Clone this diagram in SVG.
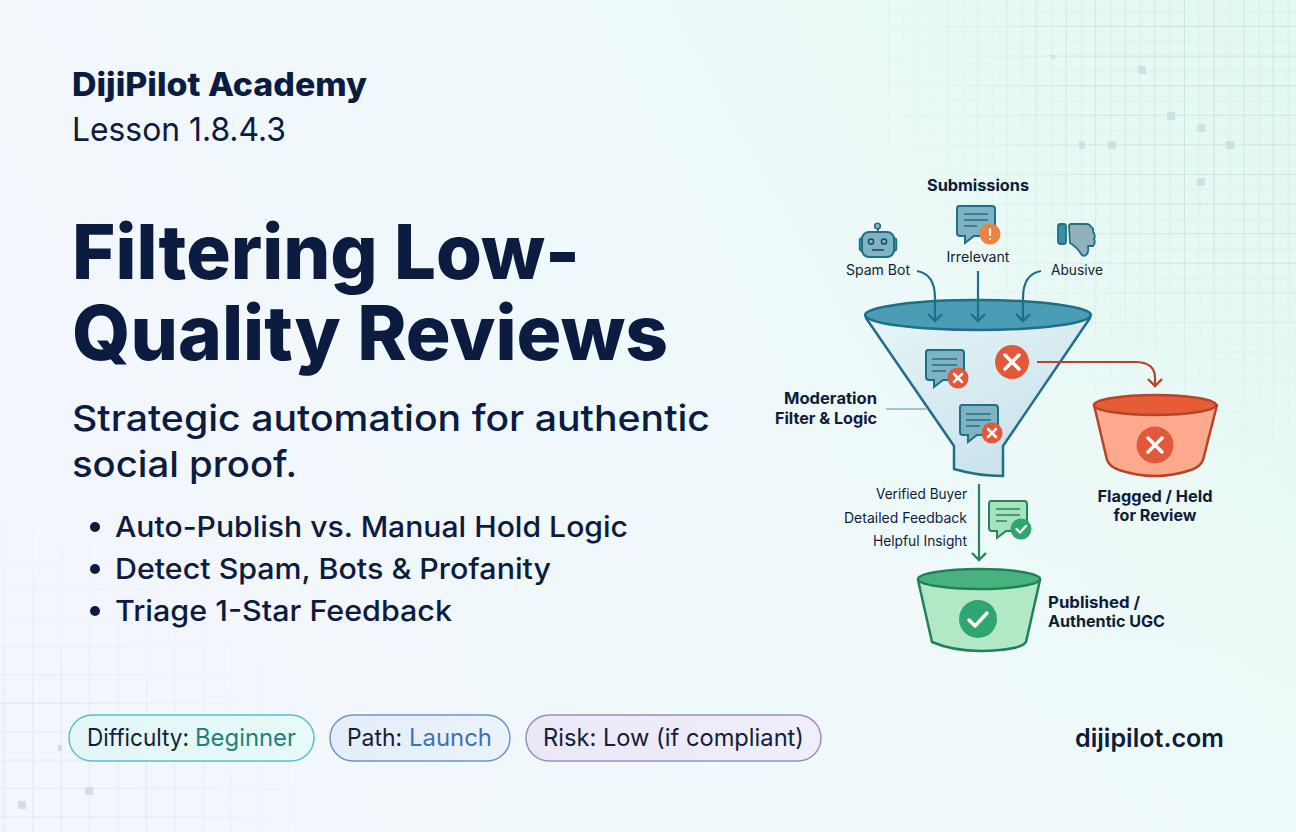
<svg xmlns="http://www.w3.org/2000/svg" width="1296" height="832" viewBox="0 0 1296 832">
<defs>
<linearGradient id="bg" x1="0" y1="0.35" x2="1" y2="0"><stop offset="0" stop-color="#f3f7fd"/><stop offset="0.55" stop-color="#eef9fa"/><stop offset="1" stop-color="#e1f9ee"/></linearGradient>
<radialGradient id="bgb" cx="0.85" cy="1" r="0.6"><stop offset="0" stop-color="#f0fafa" stop-opacity="0.8"/><stop offset="1" stop-color="#f0fafa" stop-opacity="0"/></radialGradient>
<linearGradient id="fb" x1="0" y1="0" x2="0.6" y2="1"><stop offset="0" stop-color="#e6f5f7"/><stop offset="1" stop-color="#c9e2ec"/></linearGradient>
<linearGradient id="p1" x1="0" y1="0" x2="1" y2="0"><stop offset="0" stop-color="#e2f6f8"/><stop offset="1" stop-color="#e6fbf7"/></linearGradient>
<linearGradient id="p2" x1="0" y1="0" x2="1" y2="0"><stop offset="0" stop-color="#e4eefa"/><stop offset="1" stop-color="#eaf3fb"/></linearGradient>
<linearGradient id="p3" x1="0" y1="0" x2="1" y2="0"><stop offset="0" stop-color="#ebe8f8"/><stop offset="1" stop-color="#f0eefa"/></linearGradient>
<marker id="aT" markerWidth="20" markerHeight="20" refX="8" refY="8" orient="auto" markerUnits="userSpaceOnUse"><path d="M1,1 L8,8 L1,15" fill="none" stroke="#1f6f86" stroke-width="2.400"/></marker>
<marker id="aR" markerWidth="20" markerHeight="20" refX="8" refY="8" orient="auto" markerUnits="userSpaceOnUse"><path d="M1,1 L8,8 L1,15" fill="none" stroke="#b5452a" stroke-width="2.400"/></marker>
<marker id="aG" markerWidth="20" markerHeight="20" refX="8" refY="8" orient="auto" markerUnits="userSpaceOnUse"><path d="M1,1 L8,8 L1,15" fill="none" stroke="#26855f" stroke-width="2.400"/></marker>
<g id="bubble"><path d="M2,0 H35 Q38,0 38,3 V27 Q38,30 35,30 H17 L8,37 V30 H3 Q0,30 0,27 V3 Q0,0 2,0 Z" stroke-width="2"/></g>
<pattern id="grid" width="29.600" height="29.600" patternUnits="userSpaceOnUse" patternTransform="translate(1,-2.600)"><path d="M29.600,0 V29.600 H0" fill="none" stroke="#6fa89f" stroke-width="1" opacity="0.42"/><path d="M14.800,0 V29.600 M0,14.800 H29.600" fill="none" stroke="#6fa89f" stroke-width="1" opacity="0.1"/></pattern>
<pattern id="grid2" width="28.400" height="28.400" patternUnits="userSpaceOnUse" patternTransform="translate(5,22.200)"><path d="M28.400,0 V28.400 H0" fill="none" stroke="#8fa8c4" stroke-width="1" opacity="0.34"/></pattern>
<radialGradient id="fade" gradientUnits="userSpaceOnUse" cx="1296" cy="40" r="440"><stop offset="0.45" stop-color="#fff"/><stop offset="1" stop-color="#000"/></radialGradient>
<radialGradient id="fade2" gradientUnits="userSpaceOnUse" cx="0" cy="832" r="340"><stop offset="0.4" stop-color="#fff"/><stop offset="1" stop-color="#000"/></radialGradient>
<mask id="m1" maskUnits="userSpaceOnUse" x="800" y="0" width="496" height="500"><rect x="800" y="0" width="496" height="500" fill="url(#fade)"/></mask>
<mask id="m2" maskUnits="userSpaceOnUse" x="0" y="480" width="360" height="352"><rect x="0" y="480" width="360" height="352" fill="url(#fade2)"/></mask>
</defs>
<style>
text{font-family:"Inter","Liberation Sans",sans-serif;fill:#0c1b40}
.t{fill:#0e1c3a;font-size:14px;font-weight:400}
.b{fill:#0e1c3a;font-size:16px;font-weight:700}
.bl{font-size:29px;font-weight:500}
.pl{font-size:24px;fill:#12203c}
.dec{fill:#c6dde4;opacity:.8}
.dec2{fill:#d3deea}
</style>
<g id="background">
<rect width="1296" height="832" fill="url(#bg)"/>
<rect width="1296" height="832" fill="url(#bgb)"/>
<rect x="800" y="0" width="496" height="500" fill="url(#grid)" mask="url(#m1)"/>
<rect x="0" y="480" width="360" height="352" fill="url(#grid2)" mask="url(#m2)"/>
<rect class="dec" x="1138" y="66" width="8" height="8"/><rect class="dec" x="1167" y="112" width="8" height="8"/><rect class="dec" x="1197" y="124" width="8" height="8"/><rect class="dec" x="1226" y="141" width="8" height="8"/><rect class="dec" x="1108" y="141" width="8" height="8"/><rect class="dec" x="1079" y="141" width="6" height="8"/><rect class="dec" x="1197" y="178" width="8" height="8"/><rect class="dec" x="1051" y="55" width="4" height="4"/>
<rect class="dec2" x="85" y="787" width="8" height="8"/><rect class="dec2" x="18" y="801" width="8" height="8"/><rect class="dec2" x="58" y="745" width="4" height="6"/>
</g>
<g id="header">
<text x="72" y="96" font-size="32" font-weight="800" textLength="295" lengthAdjust="spacingAndGlyphs">DijiPilot Academy</text>
<text x="72" y="141" font-size="33" font-weight="400" textLength="214" lengthAdjust="spacingAndGlyphs">Lesson 1.8.4.3</text>
</g>
<g id="title">
<text x="72" y="279" font-size="76" font-weight="800" textLength="508" lengthAdjust="spacingAndGlyphs">Filtering Low-</text>
<text x="72" y="360" font-size="76" font-weight="800" textLength="596" lengthAdjust="spacingAndGlyphs">Quality Reviews</text>
<text x="72" y="431" font-size="36" font-weight="500" textLength="638" lengthAdjust="spacingAndGlyphs">Strategic automation for authentic</text>
<text x="72" y="477" font-size="36" font-weight="500" textLength="225" lengthAdjust="spacingAndGlyphs">social proof.</text>
</g>
<g id="bullets">
<circle cx="95" cy="527" r="5" fill="#0c1b40"/><text class="bl" x="115" y="537" textLength="513" lengthAdjust="spacingAndGlyphs">Auto-Publish vs. Manual Hold Logic</text>
<circle cx="95" cy="569" r="5" fill="#0c1b40"/><text class="bl" x="115" y="579" textLength="436" lengthAdjust="spacingAndGlyphs">Detect Spam, Bots &amp; Profanity</text>
<circle cx="95" cy="611" r="5" fill="#0c1b40"/><text class="bl" x="115" y="621" textLength="337" lengthAdjust="spacingAndGlyphs">Triage 1-Star Feedback</text>
</g>
<g id="pill-difficulty"><rect x="69" y="715" width="245" height="46" rx="23" fill="url(#p1)" stroke="#5cc0c4" stroke-width="1.500"/><text class="pl" x="87" y="746"><tspan textLength="102" lengthAdjust="spacingAndGlyphs">Difficulty:</tspan> <tspan x="195" fill="#23807f" textLength="101" lengthAdjust="spacingAndGlyphs">Beginner</tspan></text></g>
<g id="pill-path"><rect x="330" y="715" width="180" height="46" rx="23" fill="url(#p2)" stroke="#6f95c8" stroke-width="1.500"/><text class="pl" x="347" y="746"><tspan textLength="55" lengthAdjust="spacingAndGlyphs">Path:</tspan> <tspan x="409" fill="#3f73ad" textLength="83" lengthAdjust="spacingAndGlyphs">Launch</tspan></text></g>
<g id="pill-risk"><rect x="526" y="715" width="295" height="46" rx="23" fill="url(#p3)" stroke="#9c8cc4" stroke-width="1.500"/><text class="pl" x="543" y="746" textLength="261" lengthAdjust="spacingAndGlyphs">Risk: Low (if compliant)</text></g>
<g id="site"><text x="1075" y="747" font-size="25" font-weight="600" textLength="149" lengthAdjust="spacingAndGlyphs">dijipilot.com</text></g>

<g id="funnel">
<path d="M866,318 L954,446 L954,469 Q978,476 1003,476 L1003,446 L1090,318 Z" fill="url(#fb)" stroke="#1f6f86" stroke-width="2.500" stroke-linejoin="round"/>
<ellipse cx="978" cy="315" rx="113" ry="15" fill="#4a9db5" stroke="#1f6f86" stroke-width="2.500"/>
<g transform="translate(926,350)"><use href="#bubble" fill="#7fb2c3" stroke="#1f6f86"/><path d="M6,9 H31 M6,15 H31 M6,21 H20" stroke="#1f6f86" stroke-width="1.600" fill="none"/><circle cx="32" cy="28" r="10.500" fill="#e2583a"/><path d="M28,24 L36,32 M36,24 L28,32" stroke="#fff" stroke-width="2.500" stroke-linecap="round"/></g>
<g transform="translate(960,405)"><use href="#bubble" fill="#7fb2c3" stroke="#1f6f86"/><path d="M6,9 H31 M6,15 H31 M6,21 H20" stroke="#1f6f86" stroke-width="1.600" fill="none"/><circle cx="32" cy="28" r="10.500" fill="#e2583a"/><path d="M28,24 L36,32 M36,24 L28,32" stroke="#fff" stroke-width="2.500" stroke-linecap="round"/></g>
<circle cx="1012" cy="362" r="17" fill="#e2583a"/><path d="M1005,355 L1019,369 M1019,355 L1005,369" stroke="#fff" stroke-width="3.500" stroke-linecap="round"/>
<text class="b" x="877" y="404" text-anchor="end" textLength="93" lengthAdjust="spacingAndGlyphs">Moderation</text>
<text class="b" x="877" y="424" text-anchor="end" textLength="102" lengthAdjust="spacingAndGlyphs">Filter &amp; Logic</text>
</g>
<g id="spam-bot">
<path d="M878,232 V225" stroke="#1f6f86" stroke-width="1.800"/><circle cx="877.500" cy="226" r="2.800" fill="#8ab9c8" stroke="#1f6f86" stroke-width="1.600"/>
<rect x="859.500" y="238" width="5" height="13" rx="2.500" fill="#3f8ea3" stroke="#1f6f86" stroke-width="1.500"/><rect x="891.500" y="238" width="5" height="13" rx="2.500" fill="#3f8ea3" stroke="#1f6f86" stroke-width="1.500"/>
<rect x="862" y="232" width="32" height="25" rx="7" fill="#7fb2c3" stroke="#1f6f86" stroke-width="2"/>
<circle cx="871" cy="241.500" r="2.600" fill="none" stroke="#164e60" stroke-width="1.500"/><circle cx="884" cy="241.500" r="2.600" fill="none" stroke="#164e60" stroke-width="1.500"/><path d="M872,250 H884" stroke="#164e60" stroke-width="1.600"/>
<text class="t" x="878" y="275" text-anchor="middle" textLength="64" lengthAdjust="spacingAndGlyphs">Spam Bot</text>
</g>
<g id="irrelevant">
<g transform="translate(957,206)"><use href="#bubble" fill="#7fb2c3" stroke="#1f6f86"/><path d="M7,8 H31 M7,14 H31 M7,20 H20" stroke="#1f6f86" stroke-width="1.600" fill="none"/><circle cx="33" cy="28" r="10.500" fill="#ee8340"/><path d="M33,23 V29" stroke="#fff" stroke-width="2.200" stroke-linecap="round"/><circle cx="33" cy="33" r="1.100" fill="#fff"/></g>
<text class="t" x="978" y="262" text-anchor="middle" textLength="63" lengthAdjust="spacingAndGlyphs">Irrelevant</text>
</g>
<g id="abusive">
<rect x="1058" y="224" width="8" height="20" rx="2.500" fill="#3f8ea3" stroke="#1f6f86" stroke-width="1.800"/>
<path d="M1071,224 Q1069,224 1069,227 L1070,243 Q1078,248 1081,254 Q1083,257 1086,255 Q1089,253 1088,246 H1093 Q1096,243 1094,239 Q1096,235 1093,232 Q1094,228 1091,227 Q1090,224 1086,224 Z" fill="#91b2bb" stroke="#1f6f86" stroke-width="1.800" stroke-linejoin="round"/>
<text class="t" x="1077" y="275" text-anchor="middle" textLength="52" lengthAdjust="spacingAndGlyphs">Abusive</text>
</g>
<text id="submissions" class="b" x="978" y="191" text-anchor="middle" textLength="102" lengthAdjust="spacingAndGlyphs">Submissions</text>
<g id="flagged">
<path d="M1094,405 L1107,460 Q1110,467 1119,470 Q1155,482 1191,470 Q1200,467 1203,460 L1217,405 Z" fill="#fca98d" stroke="#b5452a" stroke-width="2.500" stroke-linejoin="round"/>
<ellipse cx="1155" cy="405" rx="61" ry="10" fill="#e65c37" stroke="#b5452a" stroke-width="2.500"/>
<circle cx="1155" cy="445" r="18.500" fill="#e2583a"/><path d="M1148,438 L1162,452 M1162,438 L1148,452" stroke="#fff" stroke-width="3.500" stroke-linecap="round"/>
<text class="b" x="1155" y="502" text-anchor="middle" textLength="115" lengthAdjust="spacingAndGlyphs">Flagged / Held</text>
<text class="b" x="1155" y="521" text-anchor="middle" textLength="83" lengthAdjust="spacingAndGlyphs">for Review</text>
</g>
<g id="published">
<path d="M918,580 L932,642 Q960,654 1000,650 Q1022,648 1026,642 L1040,580 Z" fill="#b2e8c5" stroke="#23805a" stroke-width="2.500" stroke-linejoin="round"/>
<ellipse cx="979" cy="579" rx="61" ry="10" fill="#47b27e" stroke="#23805a" stroke-width="2.500"/>
<circle cx="978" cy="619" r="19" fill="#2fa671"/><path d="M969,620 L975,626 L987,613" fill="none" stroke="#fff" stroke-width="3.500" stroke-linecap="round" stroke-linejoin="round"/>
<text class="b" x="1048" y="608" textLength="92" lengthAdjust="spacingAndGlyphs">Published /</text>
<text class="b" x="1048" y="627" textLength="117" lengthAdjust="spacingAndGlyphs">Authentic UGC</text>
</g>
<g id="passed">
<text class="t" x="967" y="499" text-anchor="end" textLength="91" lengthAdjust="spacingAndGlyphs">Verified Buyer</text>
<text class="t" x="967" y="523" text-anchor="end" textLength="123" lengthAdjust="spacingAndGlyphs">Detailed Feedback</text>
<text class="t" x="967" y="546" text-anchor="end" textLength="94" lengthAdjust="spacingAndGlyphs">Helpful Insight</text>
<g transform="translate(989,501)"><path d="M2,0 H35 Q38,0 38,3 V27 Q38,30 35,30 H17 L8,37 V30 H3 Q0,30 0,27 V3 Q0,0 2,0 Z" fill="#a6e2bc" stroke="#26855f" stroke-width="2"/><path d="M7,8 H31 M7,14 H31 M7,20 H18" stroke="#26855f" stroke-width="1.600" fill="none"/><circle cx="32" cy="28" r="10.500" fill="#2fa671"/><path d="M27.500,28 L31,31.500 L37,25" fill="none" stroke="#fff" stroke-width="2.200" stroke-linecap="round"/></g>
</g>
<g id="connectors" fill="none" stroke-width="2.200">
<path d="M917,271 Q935,274 935,298 V321" stroke="#1f6f86" marker-end="url(#aT)"/>
<path d="M978,271 V321" stroke="#1f6f86" marker-end="url(#aT)"/>
<path d="M1041,271 Q1023,274 1023,298 V321" stroke="#1f6f86" marker-end="url(#aT)"/>
<path d="M1037,362 H1135 Q1155,362 1155,378 V386" stroke="#b5452a" marker-end="url(#aR)"/>
<path d="M979,484 V560" stroke="#26855f" marker-end="url(#aG)"/>
<path d="M886,409 H926" stroke="#5b8f9e" stroke-width="1"/>
</g>
</svg>
